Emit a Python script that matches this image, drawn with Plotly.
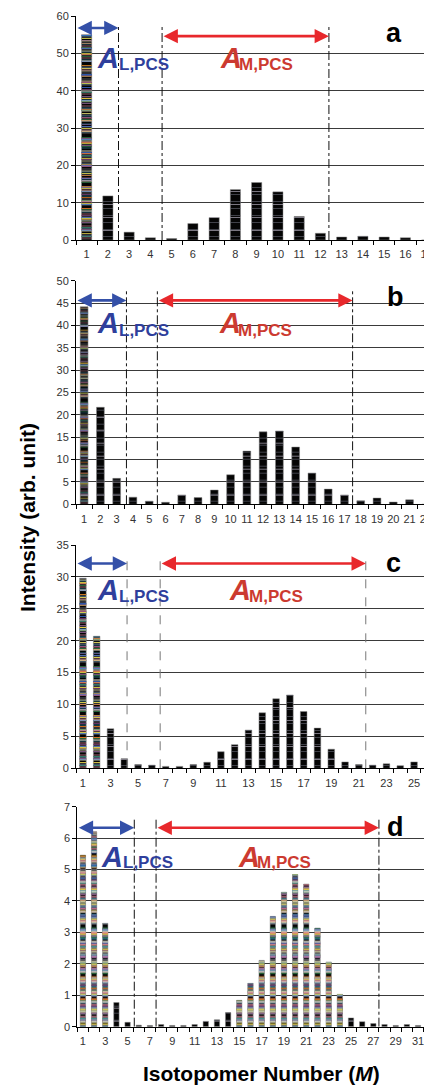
import plotly.graph_objects as go

# ---------------- data ----------------
cats_a = list(range(1, 18))
vals_a = [55.0, 11.8, 2.1, 0.6, 0.4, 4.4, 6.0, 13.5, 15.4, 12.9, 6.3, 1.8, 0.8, 1.0, 0.8, 0.6, 0.0]
cats_b = list(range(1, 23))
vals_b = [44.2, 21.7, 5.8, 1.6, 0.7, 0.45, 2.1, 1.5, 3.2, 6.6, 11.9, 16.2, 16.4, 12.8, 7.0, 3.4,
          2.1, 0.8, 1.4, 0.5, 1.0, 0.0]
cats_c = list(range(1, 27))
vals_c = [29.8, 20.7, 6.2, 1.5, 0.6, 0.5, 0.3, 0.3, 0.6, 0.95, 2.6, 3.7, 6.0, 8.7, 10.9, 11.5,
          8.9, 6.3, 3.0, 1.0, 0.6, 0.5, 0.7, 0.4, 1.0, 0.0]
cats_d = list(range(1, 33))
vals_d = [5.46, 6.2, 3.29, 0.77, 0.14, 0.05, 0.04, 0.07, 0.04, 0.04, 0.07, 0.17, 0.22, 0.45, 0.84,
          1.38, 2.11, 3.51, 4.28, 4.84, 4.54, 3.14, 2.06, 1.03, 0.28, 0.16, 0.10, 0.07, 0.04, 0.07,
          0.04, 0.0]

panel_letters = ["a", "b", "c", "d"]
y_max = [60, 50, 35, 7]
y_dtick = [10, 5, 5, 1]
x_label_step = [1, 1, 2, 2]
# region boundaries (isotopomer number)
l_pcs_end = [2.5, 3.6, 4.2, 5.6]
m_pcs_start = [4.55, 5.5, 6.6, 7.55]
m_pcs_end = [12.4, 17.5, 21.5, 27.5]
arrow_l_y = [56.8, 45.6, 32.1, 6.33]
arrow_m_y = [54.6, 45.6, 32.1, 6.33]
divider_top = [57.1, 47.8, 33.7, 6.64]

y_title = "Intensity (arb. unit)"
x_title = "Isotopomer Number (<i>M</i>)"

# ---------------- layout geometry ----------------
OFF = 8                      # page body margin of the html page
W, H = 432 - OFF, 1086 - OFF
L = 76 - OFF
PW = W - L


def px_x(x):
    return (x - OFF - L) / PW


def px_y(y):
    return 1 - (y - OFF) / H


boxes = [(16, 240), (280.7, 504.3), (545, 768.3), (806.7, 1026.7)]
x_ranges = [[0.5, 17.25], [0.5, 22.38], [0.5, 26.3], [0.5, 32.25]]
x_dom_start = [0, 0, 0, 0.0037]
txt = [
    (95, 117, 218, 237, 58, 65, 394, 33),
    (95, 117, 217, 236, 323, 330, 395, 297),
    (95, 117, 227, 247, 590, 596, 393, 563),
    (99, 121, 236, 255, 857, 862, 395, 827),
]
divider_style = [("dashdot", "#111111"), ("dashdot", "#111111"), ("dash", "#777777"), ("dashdot", "#111111")]
color_frac = [0.5, 0.5, 0.5, 0.13]
color_strength = [0.4, 0.3, 0.45, 0.8]

BLUE = "#3450a8"
RED = "#e8282c"
BLUE_T = "#2f3f9c"
RED_T = "#cc3a30"

cats = [cats_a, cats_b, cats_c, cats_d]
vals = [vals_a, vals_b, vals_c, vals_d]

fig = go.Figure()
stripe_gray = [("#6f7180", 7, 0.08), ("#b9b4c4", 13, 0.05)]
stripe_col = [("#7a2d70", 7, 0.22), ("#2f7a45", 9, 0.2), ("#e2791c", 11, 0.18),
              ("#2c56a8", 13, 0.2), ("#42b6de", 8, 0.15), ("#ece6b8", 10, 0.18),
              ("#e9d64a", 15, 0.13), ("#e88ca4", 12, 0.13), ("#a8a8b8", 6, 0.2)]

annotations = []
shapes = []
font_fam = "Liberation Sans, Arial, sans-serif"
for i in range(4):
    xa = "x" if i == 0 else f"x{i+1}"
    ya = "y" if i == 0 else f"y{i+1}"
    top, bot = boxes[i]
    vmax = max(vals[i])
    colorful = [v >= color_frac[i] * vmax for v in vals[i]]
    fig.add_trace(go.Bar(x=cats[i], y=vals[i], width=0.48, xaxis=xa, yaxis=ya,
                         marker=dict(color="#050505", line=dict(color="#8a8a8a", width=0.5)),
                         showlegend=False, hoverinfo="skip"))
    for col, size, sol in stripe_gray:
        fig.add_trace(go.Bar(x=cats[i], y=vals[i], width=0.48, xaxis=xa, yaxis=ya,
                             marker=dict(color="rgba(0,0,0,0)", line=dict(width=0),
                                         pattern=dict(shape="-", fgcolor=col, size=size,
                                                      solidity=sol, fillmode="replace")),
                             showlegend=False, hoverinfo="skip"))
    for col, size, sol in stripe_col:
        fgs = [col if c else "rgba(0,0,0,0)" for c in colorful]
        fig.add_trace(go.Bar(x=cats[i], y=vals[i], width=0.48, xaxis=xa, yaxis=ya,
                             marker=dict(color="rgba(0,0,0,0)", line=dict(width=0),
                                         pattern=dict(shape="-", fgcolor=fgs, size=size,
                                                      solidity=sol * color_strength[i],
                                                      fillmode="replace")),
                             showlegend=False, hoverinfo="skip"))

    yd = [px_y(bot), px_y(top)]
    axis_font = dict(family=font_fam, size=11, color="#333333")
    fig.layout[("xaxis" if i == 0 else f"xaxis{i+1}")] = dict(
        domain=[x_dom_start[i], 1], anchor=ya, range=x_ranges[i], automargin=False,
        tickmode="linear", tick0=1, dtick=x_label_step[i], ticks="",
        showgrid=False, zeroline=False, showline=True, linecolor="black", linewidth=1,
        tickfont=axis_font, ticklabelstandoff=4, ticklabeloverflow="allow",
        minor=dict(tick0=0.5, dtick=1, ticks="outside", ticklen=4, tickcolor="black", showgrid=False),
    )
    fig.layout[("yaxis" if i == 0 else f"yaxis{i+1}")] = dict(
        domain=yd, anchor=xa, range=[0, y_max[i]], tickmode="linear", tick0=0, dtick=y_dtick[i],
        automargin=False,
        showgrid=True, gridcolor="#3a3a3a", gridwidth=1, zeroline=False,
        showline=True, linecolor="black", linewidth=1, ticks="outside", ticklen=4,
        tickcolor="black", tickfont=axis_font,
    )

    dash, dcol = divider_style[i]
    for xv in (l_pcs_end[i], m_pcs_start[i], m_pcs_end[i]):
        shapes.append(dict(type="line", xref=xa, yref=ya, x0=xv, x1=xv, y0=0, y1=divider_top[i],
                           line=dict(color=dcol, width=1, dash=dash)))
    annotations.append(dict(xref=xa, yref=ya, axref=xa, ayref=ya, x=l_pcs_end[i], y=arrow_l_y[i],
                            ax=x_ranges[i][0], ay=arrow_l_y[i], text="", showarrow=True,
                            arrowside="end+start", arrowhead=2, arrowsize=1.1, arrowwidth=2.6,
                            arrowcolor=BLUE, standoff=0, startstandoff=0))
    annotations.append(dict(xref=xa, yref=ya, axref=xa, ayref=ya, x=m_pcs_end[i], y=arrow_m_y[i],
                            ax=m_pcs_start[i], ay=arrow_m_y[i], text="", showarrow=True,
                            arrowside="end+start", arrowhead=2, arrowsize=1.1, arrowwidth=2.6,
                            arrowcolor=RED, standoff=0, startstandoff=0))
    aL, sL, aM, sM, ay_c, sy_c, lx, ly = txt[i]
    fbig = dict(family=font_fam, size=29)
    fsub = dict(family=font_fam, size=17)
    for left, subleft, sub, col in ((aL, sL, "L,PCS", BLUE_T), (aM, sM, "M,PCS", RED_T)):
        annotations.append(dict(xref="paper", yref="paper", x=px_x(left), y=px_y(ay_c),
                                xanchor="left", yanchor="middle", text="<b><i>A</i></b>",
                                showarrow=False, font=dict(color=col, **fbig)))
        annotations.append(dict(xref="paper", yref="paper", x=px_x(subleft), y=px_y(sy_c),
                                xanchor="left", yanchor="middle", text=f"<b>{sub}</b>",
                                showarrow=False, font=dict(color=col, **fsub)))
    annotations.append(dict(xref="paper", yref="paper", x=px_x(lx), y=px_y(ly),
                            xanchor="center", yanchor="middle", text=f"<b>{panel_letters[i]}</b>",
                            showarrow=False, font=dict(family=font_fam, size=27, color="black")))

annotations.append(dict(xref="paper", yref="paper", x=px_x(28), y=px_y(518), textangle=-90,
                        xanchor="center", yanchor="middle", text=f"<b>{y_title}</b>", showarrow=False,
                        font=dict(family=font_fam, size=21, color="black")))
annotations.append(dict(xref="paper", yref="paper", x=px_x(261), y=px_y(1073),
                        xanchor="center", yanchor="middle", text=f"<b>{x_title}</b>", showarrow=False,
                        font=dict(family=font_fam, size=21, color="black")))

fig.update_layout(width=W, height=H, margin=dict(l=L, r=0, t=0, b=0),
                  barmode="overlay", plot_bgcolor="white", paper_bgcolor="white",
                  annotations=annotations, shapes=shapes, showlegend=False)
fig.write_html("out.html")
